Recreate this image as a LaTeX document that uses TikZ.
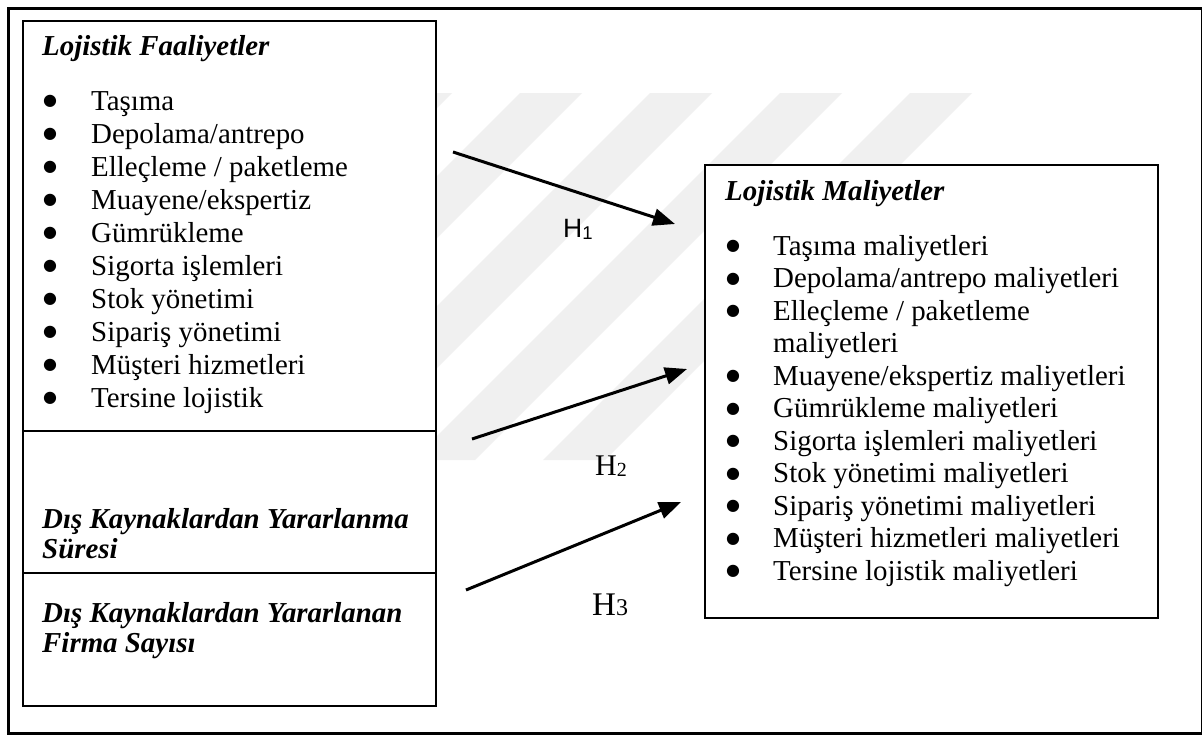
\documentclass[tikz,border=0pt]{standalone}
\usepackage{fontspec}
\setmainfont{Liberation Serif}
\newfontfamily\hsans{Liberation Sans}
\newfontfamily\dvs{DejaVu Sans}
\usetikzlibrary{arrows.meta}
\newcommand\dotb{\raisebox{4.5pt}{\dvs\fontsize{16}{16}\selectfont ●}}
\begin{document}
\begin{tikzpicture}[x=1pt,y=-1pt,
  box/.style={draw=black,line width=1.6pt,fill=white,inner sep=0pt,anchor=north west},
  frame/.style={draw=black,line width=3pt},
  arr/.style={line width=3pt,-{Triangle[length=22pt,width=17pt]}},
  txt/.style={anchor=base west,inner sep=0pt,font=\fontsize{28.9}{33}\selectfont},
  rtxt/.style={anchor=base west,inner sep=0pt,font=\fontsize{28.9}{32.5}\selectfont},
  head/.style={anchor=base west,inner sep=0pt,font=\fontsize{28.9}{30.5}\selectfont\bfseries\itshape},
  hlab/.style={anchor=base west,inner sep=0pt},
  stripe/.style={fill=black!6,draw=none}]
\useasboundingbox (0,0) rectangle (1202,736);
\fill[white] (0,0) rectangle (1202,736);
% faint watermark stripes
\foreach \t in {390,520,650,780,910}{
  \fill[stripe] (\t,93) -- (\t+62,93) -- (\t+62-367,460) -- (\t-367,460) -- cycle;
}
% outer frame
\node[frame,inner sep=0pt,minimum width=1194pt,minimum height=725pt,anchor=north west] (outer) at (6.5,6.5) {};
% left boxes
\node[box,minimum width=413pt,minimum height=410pt] (lf) at (22,20) {};
\node[box,minimum width=413pt,minimum height=142pt] (ls) at (22,430) {};
\node[box,minimum width=413pt,minimum height=133pt] (ln) at (22,572) {};
% right box
\node[box,minimum width=453pt,minimum height=453pt] (rm) at (704,164) {};
% left texts
\node[head] (lfh) at (42,55) {Lojistik Faaliyetler};
\node[txt] (lfl) at (43,110) {\begin{tabular}[t]{@{}p{48pt}@{}l@{}}
\dotb & Taşıma\\
\dotb & Depolama/antrepo\\
\dotb & Elleçleme / paketleme\\
\dotb & Muayene/ekspertiz\\
\dotb & Gümrükleme\\
\dotb & Sigorta işlemleri\\
\dotb & Stok yönetimi\\
\dotb & Sipariş yönetimi\\
\dotb & Müşteri hizmetleri\\
\dotb & Tersine lojistik
\end{tabular}};
\node[head] (lsh) at (42,528) {\begin{tabular}[t]{@{}l@{}}Dış Kaynaklardan Yararlanma\\ Süresi\end{tabular}};
\node[head] (lnh) at (42,622) {\begin{tabular}[t]{@{}l@{}}Dış Kaynaklardan Yararlanan\\ Firma Sayısı\end{tabular}};
% right texts
\node[head] (rmh) at (725,200) {Lojistik Maliyetler};
\node[rtxt] (rml) at (726,255) {\begin{tabular}[t]{@{}p{47pt}@{}l@{}}
\dotb & Taşıma maliyetleri\\
\dotb & Depolama/antrepo maliyetleri\\
\dotb & Elleçleme / paketleme\\
 & maliyetleri\\
\dotb & Muayene/ekspertiz maliyetleri\\
\dotb & Gümrükleme maliyetleri\\
\dotb & Sigorta işlemleri maliyetleri\\
\dotb & Stok yönetimi maliyetleri\\
\dotb & Sipariş yönetimi maliyetleri\\
\dotb & Müşteri hizmetleri maliyetleri\\
\dotb & Tersine lojistik maliyetleri
\end{tabular}};
% arrows
\coordinate (a1s) at (453,152);
\coordinate (a1e) at (675,224);
\coordinate (a2s) at (472,439);
\coordinate (a2e) at (687,369);
\coordinate (a3s) at (466,590);
\coordinate (a3e) at (681,502);
\draw[arr] (a1s) -- (a1e);
\draw[arr] (a2s) -- (a2e);
\draw[arr] (a3s) -- (a3e);
% hypothesis labels
\node[hlab,font=\hsans\fontsize{26.5}{28}\selectfont] (h1) at (563,237) {H\raisebox{-2pt}{\fontsize{18.5}{19}\selectfont 1}};
\node[hlab,font=\fontsize{30}{32}\selectfont] (h2) at (595,475) {H\raisebox{-1.5pt}{\fontsize{20}{21}\selectfont 2}};
\node[hlab,font=\fontsize{33}{35}\selectfont] (h3) at (592,615) {H\raisebox{-0.5pt}{\fontsize{24}{25}\selectfont 3}};
\end{tikzpicture}
\end{document}
